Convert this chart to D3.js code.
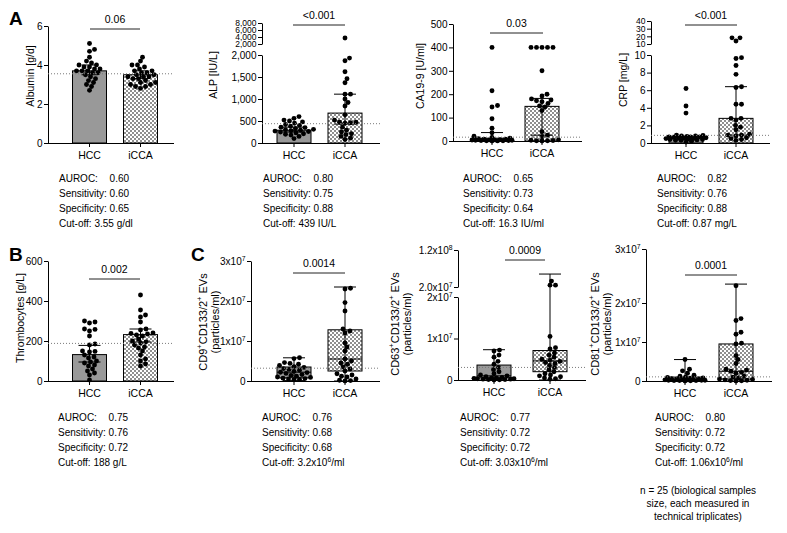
<!DOCTYPE html>
<html>
<head>
<meta charset="utf-8">
<script src="https://cdn.jsdelivr.net/npm/d3@7"></script>
<style>
  body { margin: 0; background: #fff; }
  svg { display: block; font-family: "Liberation Sans", Arial, sans-serif; }
</style>
</head>
<body>
<svg id="fig" width="787" height="533"></svg>
<script>
// ---- data ----
var groups = ["HCC", "iCCA"];

// A: serum markers (bar = median, err = interval)
var albuminHCC = [5.1, 4.8, 4.7, 4.4, 4.2, 4.1, 4.0, 4.0, 3.9, 3.9, 3.8, 3.8, 3.7, 3.7, 3.7, 3.6, 3.6, 3.5, 3.4, 3.3, 3.2, 3.1, 3.0, 2.9, 2.7];
var albuminICCA = [4.4, 4.2, 4.0, 4.0, 3.9, 3.8, 3.7, 3.7, 3.6, 3.6, 3.5, 3.5, 3.4, 3.4, 3.4, 3.3, 3.3, 3.2, 3.1, 3.1, 3.0, 3.0, 2.9, 2.9, 2.8];
var albuminBar = [3.7, 3.5];
var albuminErr = [[3.5, 4.0], [3.3, 3.7]];

var alpHCC = [600, 560, 520, 500, 480, 450, 420, 400, 380, 360, 350, 330, 310, 300, 290, 280, 270, 260, 250, 230, 210, 200, 180, 150, 100];
var alpICCA = [3700, 1930, 1870, 1620, 1460, 1370, 1110, 1110, 1000, 920, 840, 640, 520, 470, 470, 460, 450, 360, 290, 250, 210, 190, 150, 110, 80];
var alpBar = [290, 680];
var alpErr = [[250, 360], [430, 1110]];

var ca199HCC = [400, 215, 152, 145, 95, 55, 35, 20, 15, 12, 10, 8, 8, 6, 5, 5, 4, 3, 3, 2, 2, 1, 1, 0.5, 0];
var ca199ICCA = [400, 400, 400, 400, 400, 300, 200, 192, 180, 175, 172, 168, 160, 150, 145, 130, 40, 25, 18, 5, 3, 2, 1, 1, 0];
var ca199Bar = [12, 148];
var ca199Err = [[2, 36], [25, 182]];

var crpHCC = [6.2, 4.2, 3.4, 0.9, 0.85, 0.8, 0.8, 0.75, 0.7, 0.7, 0.7, 0.65, 0.6, 0.6, 0.55, 0.5, 0.5, 0.45, 0.4, 0.4, 0.35, 0.3, 0.3, 0.2, 0.1];
var crpICCA = [18, 18, 14, 9.7, 9.6, 8.8, 7.8, 6.4, 6.3, 4.4, 4.4, 2.8, 2.8, 2.6, 2.0, 1.8, 1.5, 1.0, 0.9, 0.9, 0.8, 0.6, 0.5, 0.4, 0.3];
var crpBar = [0.65, 2.8];
var crpErr = [[0.45, 0.8], [0.9, 6.4]];

// B: thrombocytes
var thrHCC = [300, 295, 290, 260, 258, 250, 225, 185, 180, 150, 148, 145, 130, 120, 115, 100, 95, 90, 80, 75, 60, 50, 40, 30, 5];
var thrICCA = [430, 355, 330, 320, 295, 260, 255, 240, 238, 235, 230, 225, 210, 200, 195, 190, 180, 170, 165, 150, 130, 110, 100, 85, 75];
var thrBar = [132, 232];
var thrErr = [[95, 178], [195, 260]];

// C: EVs (particles/ml); box = [min, q1, median, q3, max]
var cd9HCC = [5.8e6, 5.6e6, 4.6e6, 4.4e6, 4.2e6, 3.9e6, 3.6e6, 3.4e6, 3.1e6, 2.9e6, 2.7e6, 2.4e6, 2.2e6, 2.1e6, 1.9e6, 1.6e6, 1.4e6, 1.2e6, 1.0e6, 0.9e6, 0.7e6, 0.6e6, 0.5e6, 0.4e6, 0.3e6];
var cd9ICCA = [2.32e7, 2.3e7, 1.96e7, 1.75e7, 1.3e7, 1.25e7, 1.2e7, 9.5e6, 8.5e6, 7.5e6, 5.5e6, 5.0e6, 4.5e6, 4.2e6, 3.5e6, 3.0e6, 2.5e6, 1.8e6, 1.5e6, 1.2e6, 1.0e6, 0.5e6, 0.2e6, 0.1e6, 0];
var cd9Box = [[0.1e6, 0.8e6, 2.2e6, 3.5e6, 5.8e6], [0, 2.5e6, 5.5e6, 1.28e7, 2.35e7]];

var cd63HCC = [7.2e6, 7.0e6, 6.0e6, 5.5e6, 4.5e6, 3.8e6, 3.0e6, 2.5e6, 2.0e6, 1.5e6, 1.2e6, 1.0e6, 0.8e6, 0.6e6, 0.5e6, 0.5e6, 0.4e6, 0.3e6, 0.3e6, 0.2e6, 0.2e6, 0.1e6, 0.1e6, 0.05e6, 0];
var cd63ICCA = [3.6e7, 2.5e7, 2.5e7, 1.05e7, 7.8e6, 7.5e6, 6.5e6, 6.0e6, 5.5e6, 5.0e6, 4.8e6, 4.5e6, 4.2e6, 4.0e6, 3.5e6, 3.0e6, 2.5e6, 2.0e6, 1.5e6, 1.2e6, 1.0e6, 0.8e6, 0.5e6, 0.3e6, 0.2e6];
var cd63Box = [[0, 0.5e6, 1.0e6, 3.6e6, 7.3e6], [0, 2.0e6, 4.6e6, 7.1e6, 5.5e7]];

var cd81HCC = [5.5e6, 3.0e6, 2.6e6, 2.0e6, 1.5e6, 1.2e6, 1.0e6, 0.9e6, 0.8e6, 0.7e6, 0.6e6, 0.5e6, 0.5e6, 0.4e6, 0.4e6, 0.3e6, 0.3e6, 0.2e6, 0.2e6, 0.2e6, 0.1e6, 0.1e6, 0.1e6, 0.05e6, 0];
var cd81ICCA = [2.32e7, 1.6e7, 1.55e7, 1.25e7, 1.2e7, 9.7e6, 9.5e6, 6.5e6, 5.5e6, 4.5e6, 3.0e6, 2.8e6, 2.5e6, 2.2e6, 2.0e6, 1.2e6, 1.0e6, 0.8e6, 0.5e6, 0.4e6, 0.3e6, 0.2e6, 0.1e6, 0.05e6, 0];
var cd81Box = [[0, 0.1e6, 0.3e6, 1.0e6, 5.5e6], [0, 0.5e6, 2.5e6, 9.5e6, 2.35e7]];

// cut-offs, p values and ROC figures, in panel order
var cutValues = [3.55, 439, 16.3, 0.87, 188, 3.2e6, 3.03e6, 1.06e6];
var pValues = ["0.06", "<0.001", "0.03", "<0.001", "0.002", "0.0014", "0.0009", "0.0001"];
var aurocs = ["0.60", "0.80", "0.65", "0.82", "0.75", "0.76", "0.77", "0.80"];
var sens = ["0.60", "0.75", "0.73", "0.76", "0.76", "0.68", "0.72", "0.72"];
var spec = ["0.65", "0.88", "0.64", "0.88", "0.72", "0.68", "0.72", "0.72"];
var cutLabels = ["3.55 g/dl", "439 IU/L", "16.3 IU/ml", "0.87 mg/L", "188 g/L", "3.2x10^6/ml", "3.03x10^6/ml", "1.06x10^6/ml"];
var footnote = ["n = 25 (biological samples", "size, each measured in", "technical triplicates)"];

var comma = d3.format(",");
var sci = d => d == 0 ? "0" : (d / 1e7) + "x10^7";

// ---- layout ----
var panels = [
  {hcc: albuminHCC, icca: albuminICCA, bar: albuminBar, err: albuminErr, cap: 8,
   ax: 48, right: 174, cx: [89.5, 140.5],
   segs: [{domain: [0, 6], range: [143, 26], ticks: [0, 2, 4, 6], fmt: comma}],
   ylab: ["Albumin [g/d]"], labX: [30], labY: 76, lfs: 10.5, pY: 29, pX: [90, 140], tX: 59, tY: 182},
  {hcc: alpHCC, icca: alpICCA, bar: alpBar, err: alpErr,
   ax: 262, right: 380, cx: [294, 345],
   segs: [{domain: [0, 2000], range: [143, 55], ticks: [0, 500, 1000, 1500, 2000], fmt: comma},
          {domain: [2000, 8000], range: [44, 23], ticks: [2000, 4000, 6000, 8000], fmt: comma, fs: 8.5}],
   ylab: ["ALP [IU/L]"], labX: [213], labY: 75, lfs: 10.5, pY: 25, pX: [293, 345], tX: 263, tY: 182},
  {hcc: ca199HCC, icca: ca199ICCA, bar: ca199Bar, err: ca199Err,
   ax: 453, right: 582, cx: [492, 542],
   segs: [{domain: [0, 500], range: [141, 24], ticks: [0, 100, 200, 300, 400, 500], fmt: comma}],
   ylab: ["CA19-9 [U/ml]"], labX: [420], labY: 76, lfs: 10.5, pY: 33, pX: [490, 543], tX: 463, tY: 182},
  {hcc: crpHCC, icca: crpICCA, bar: crpBar, err: crpErr,
   ax: 651, right: 770, cx: [686, 736],
   segs: [{domain: [0, 10], range: [143, 55], ticks: [0, 2, 4, 6, 8, 10], fmt: comma},
          {domain: [10, 40], range: [44, 21], ticks: [10, 20, 30, 40], fmt: comma, fs: 8.5}],
   ylab: ["CRP [mg/L]"], labX: [623], labY: 80, lfs: 10.5, pY: 25, pX: [685, 737], tX: 657, tY: 182},
  {hcc: thrHCC, icca: thrICCA, bar: thrBar, err: thrErr,
   ax: 48, right: 174, cx: [89.5, 140.5],
   segs: [{domain: [0, 600], range: [381, 261], ticks: [0, 200, 400, 600], fmt: comma}],
   ylab: ["Thrombocytes [g/L]"], labX: [20], labY: 318, lfs: 10.5, pY: 279, pX: [89, 140], tX: 58, tY: 421},
  {hcc: cd9HCC, icca: cd9ICCA, box: cd9Box,
   ax: 251, right: 380, cx: [294, 345],
   segs: [{domain: [0, 3e7], range: [381, 261], ticks: [0, 1e7, 2e7, 3e7], fmt: sci}],
   ylab: ["CD9^+CD133/2^+ EVs", "(particles/ml)"], labX: [203, 215], labY: 322, lfs: 11, pY: 273, pX: [293, 345], tX: 262, tY: 421},
  {hcc: cd63HCC, icca: cd63ICCA, box: cd63Box,
   ax: 458, right: 586, cx: [494, 550],
   segs: [{domain: [0, 2e7], range: [380, 297], ticks: [0, 1e7, 2e7], fmt: sci},
          {domain: [2e7, 1.2e8], range: [287, 250], ticks: [2e7, 1.2e8], fmt: d => d == 2e7 ? "2.0x10^7" : "1.2x10^8"}],
   ylab: ["CD63^+CD133/2^+ EVs", "(particles/ml)"], labX: [395, 407], labY: 324, lfs: 11, pY: 260, pX: [505, 545], tX: 460, tY: 421},
  {hcc: cd81HCC, icca: cd81ICCA, box: cd81Box,
   ax: 646, right: 772, cx: [685, 736],
   segs: [{domain: [0, 2e7, 3e7], range: [381, 303, 249], ticks: [0, 1e7, 2e7, 3e7], fmt: sci}],
   ylab: ["CD81^+CD133/2^+ EVs", "(particles/ml)"], labX: [595, 607], labY: 324, lfs: 11, pY: 275, pX: [685, 737], tX: 655, tY: 421}
];

var svg = d3.select("#fig");
var defs = svg.append("defs");
var pat = defs.append("pattern").attr("id", "chk")
    .attr("width", 4).attr("height", 4).attr("patternUnits", "userSpaceOnUse");
pat.append("rect").attr("width", 4).attr("height", 4).attr("fill", "#fff");
pat.append("rect").attr("width", 2).attr("height", 2).attr("fill", "#8f8f8f");
pat.append("rect").attr("x", 2).attr("y", 2).attr("width", 2).attr("height", 2).attr("fill", "#8f8f8f");

var fills = ["#999999", "url(#chk)"];
var barW = 34, r = 2.45;

// text with ^x superscripts
function rich(sel, str, fs) {
  sel.text(null);
  var up = false, sh = fs * 0.4;
  str.split(/(\^.)/).filter(s => s.length).forEach(s => {
    if (s[0] == "^") {
      sel.append("tspan").attr("font-size", fs * 0.68).attr("dy", -sh).text(s[1]);
      up = true;
    } else {
      sel.append("tspan").attr("dy", up ? sh : null).text(s);
      up = false;
    }
  });
}

// beeswarm-like scatter: rows spread sideways, width capped, overlap allowed when full
function swarm(values, y, maxW) {
  var pts = values.map(v => ({v: v, y: y(v)})).sort((a, b) => b.y - a.y);
  var placed = [], sx = 2 * r + 0.6, sy = 2 * r * 0.85;
  pts.forEach(p => {
    var best = 0, bestD = -1;
    for (var k = 0; k < 400; k++) {
      var off = (k % 2 ? 1 : -1) * Math.ceil(k / 2) * 0.5;
      if (Math.abs(off) > maxW) break;
      var d = d3.min(placed, q => ((q.x - off) / sx) ** 2 + ((q.y - p.y) / sy) ** 2);
      if (d === undefined || d >= 1) { best = off; bestD = 1; break; }
      if (d > bestD) { bestD = d; best = off; }
    }
    p.x = best; placed.push(p);
  });
  return pts;
}

function drawPanel(p, i) {
  var g = svg.append("g");
  var capW = p.cap || 11;
  var scales = p.segs.map(s => d3.scaleLinear().domain(s.domain).range(s.range));
  var y = v => {
    for (var k = 0; k < scales.length; k++) {
      var d = scales[k].domain();
      if (v <= d[d.length - 1] || k == scales.length - 1) return scales[k](v);
    }
  };

  // y axis (one piece per segment)
  p.segs.forEach((s, k) => {
    var fs = s.fs || 10;
    var a = g.append("g").attr("transform", `translate(${p.ax},0)`)
      .call(d3.axisLeft(scales[k]).tickValues(s.ticks).tickFormat(s.fmt).tickSize(4).tickSizeOuter(0).tickPadding(1.5));
    a.attr("font-family", null).attr("font-size", fs);
    a.selectAll("path,line").attr("stroke", "#000");
    a.selectAll("text").attr("fill", "#000").each(function() { rich(d3.select(this), this.textContent, fs); });
  });

  // x axis
  var y0 = scales[0].range()[0];
  g.append("line").attr("x1", p.ax).attr("x2", p.right).attr("y1", y0 + 0.5).attr("y2", y0 + 0.5).attr("stroke", "#000");
  groups.forEach((name, j) => {
    g.append("line").attr("x1", p.cx[j]).attr("x2", p.cx[j]).attr("y1", y0).attr("y2", y0 + 4).attr("stroke", "#000");
    g.append("text").attr("x", p.cx[j]).attr("y", y0 + 16).attr("text-anchor", "middle").attr("font-size", 10.5).text(name);
  });

  // y label
  p.ylab.forEach((t, k) => {
    var tx = g.append("text").attr("transform", `translate(${p.labX[k]},${p.labY}) rotate(-90)`)
      .attr("text-anchor", "middle").attr("dy", "0.35em").attr("font-size", p.lfs);
    rich(tx, t, p.lfs);
  });

  var data = [p.hcc, p.icca];
  data.forEach((vals, j) => {
    var cx = p.cx[j];
    if (p.bar) {
      g.append("rect").attr("x", cx - barW / 2).attr("y", y(p.bar[j]))
        .attr("width", barW).attr("height", y0 - y(p.bar[j]))
        .attr("fill", fills[j]).attr("stroke", "#000").attr("stroke-width", 1);
    } else {
      var b = p.box[j];
      g.append("rect").attr("x", cx - barW / 2).attr("y", y(b[3]))
        .attr("width", barW).attr("height", y(b[1]) - y(b[3]))
        .attr("fill", fills[j]).attr("stroke", "#000");
    }
    g.append("g").selectAll("circle").data(swarm(vals, y, 20)).join("circle")
      .attr("cx", d => cx + d.x).attr("cy", d => d.y).attr("r", r).attr("fill", "#000");
    var lo, hi;
    if (p.bar) { lo = p.err[j][0]; hi = p.err[j][1]; }
    else {
      lo = p.box[j][0]; hi = p.box[j][4];
      g.append("line").attr("x1", cx - barW / 2).attr("x2", cx + barW / 2)
        .attr("y1", y(p.box[j][2])).attr("y2", y(p.box[j][2])).attr("stroke", "#000");
    }
    g.append("line").attr("x1", cx).attr("x2", cx).attr("y1", y(lo)).attr("y2", y(hi)).attr("stroke", "#000");
    [lo, hi].forEach(v => g.append("line").attr("x1", cx - capW).attr("x2", cx + capW)
      .attr("y1", y(v)).attr("y2", y(v)).attr("stroke", "#000"));
  });

  // cut-off
  g.append("line").attr("x1", p.ax).attr("x2", p.right).attr("y1", y(cutValues[i])).attr("y2", y(cutValues[i]))
    .attr("stroke", "#7a7a7a").attr("stroke-dasharray", "1,2");

  // p value
  g.append("line").attr("x1", p.pX[0]).attr("x2", p.pX[1]).attr("y1", p.pY).attr("y2", p.pY).attr("stroke", "#222");
  g.append("text").attr("x", (p.pX[0] + p.pX[1]) / 2).attr("y", p.pY - 6).attr("text-anchor", "middle")
    .attr("font-size", 10.5).text(pValues[i]);

  // ROC figures
  var t = svg.append("g").attr("font-size", 10);
  var m = t.append("text").text("Sensitivity: 0");
  var w = m.node().getComputedTextLength() - t.append("text").text("0").node().getComputedTextLength();
  t.selectAll("text").remove();
  t.append("text").attr("x", p.tX).attr("y", p.tY).text("AUROC:");
  t.append("text").attr("x", p.tX + w).attr("y", p.tY).text(aurocs[i]);
  t.append("text").attr("x", p.tX).attr("y", p.tY + 15).text("Sensitivity: " + sens[i]);
  t.append("text").attr("x", p.tX).attr("y", p.tY + 30).text("Specificity: " + spec[i]);
  rich(t.append("text").attr("x", p.tX).attr("y", p.tY + 45), "Cut-off: " + cutLabels[i], 10);
}

panels.forEach(drawPanel);

// panel letters
[["A", 9, 25], ["B", 9, 261], ["C", 191, 261]].forEach(l =>
  svg.append("text").attr("x", l[1]).attr("y", l[2]).attr("font-size", 19).attr("font-weight", "bold").text(l[0]));

// footnote
svg.append("g").attr("font-size", 10).attr("text-anchor", "middle")
  .selectAll("text").data(footnote).join("text")
  .attr("x", 698).attr("y", (d, k) => 494 + k * 13).text(d => d);
</script>
</body>
</html>
